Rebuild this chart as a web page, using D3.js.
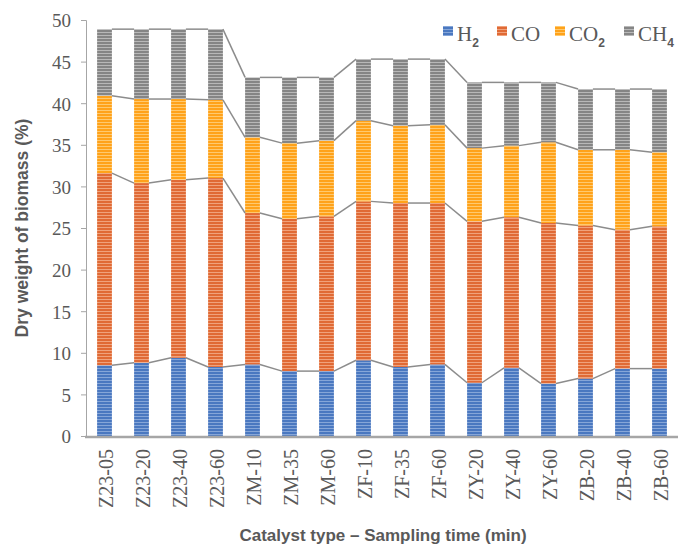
<!DOCTYPE html>
<html>
<head>
<meta charset="utf-8">
<script src="https://cdn.jsdelivr.net/npm/d3@7"></script>
<style>
  html, body { margin: 0; padding: 0; background: #fff; }
  svg { display: block; }
</style>
</head>
<body>
<svg id="chart" width="678" height="547"></svg>
<script>
// Catalyst / sampling-time categories
const categories = ["Z23-05","Z23-20","Z23-40","Z23-60","ZM-10","ZM-35","ZM-60",
                    "ZF-10","ZF-35","ZF-60","ZY-20","ZY-40","ZY-60","ZB-20","ZB-40","ZB-60"];

// Gas yields, % of dry biomass weight
const h2  = [8.5, 8.8, 9.4, 8.3, 8.6, 7.8, 7.8, 9.1, 8.3, 8.6, 6.4, 8.2, 6.3, 6.9, 8.1, 8.1];
const co  = [23.1, 21.6, 21.4, 22.7, 18.2, 18.3, 18.6, 19.1, 19.7, 19.4, 19.4, 18.1, 19.3, 18.4, 16.7, 17.1];
const co2 = [9.3, 10.1, 9.7, 9.4, 9.1, 9.1, 9.1, 9.7, 9.3, 9.4, 8.8, 8.6, 9.7, 9.1, 9.6, 8.9];
const ch4 = [8.0, 8.4, 8.4, 8.5, 7.2, 7.9, 7.6, 7.4, 8.0, 7.9, 7.9, 7.6, 7.2, 7.3, 7.3, 7.6];

const yTicks = [0, 5, 10, 15, 20, 25, 30, 35, 40, 45, 50];

const seriesKeys = ["H2", "CO", "CO2", "CH4"];
const seriesColors = { H2: "#4a78c0", CO: "#e06a35", CO2: "#ffa21a", CH4: "#858585" };
const stripeColors = { H2: "#86a6d8", CO: "#f0a27c", CO2: "#ffc96e", CH4: "#b8b8b8" };

const table = categories.map((c, i) => ({ cat: c, H2: h2[i], CO: co[i], CO2: co2[i], CH4: ch4[i] }));
const stacked = d3.stack().keys(seriesKeys)(table);

const svg = d3.select("#chart");
const plotLeft = 86, plotRight = 678, plotTop = 20, plotBottom = 436;
const serif = "'Liberation Serif', 'Times New Roman', serif";
const sans = "'Liberation Sans', Arial, sans-serif";

const x = d3.scaleBand().domain(categories).range([plotLeft, plotRight]).paddingInner(0.6).paddingOuter(0.3);
const y = d3.scaleLinear().domain([0, 50]).range([plotBottom, plotTop]);

// Narrow horizontal stripe fills
const defs = svg.append("defs");
seriesKeys.forEach(k => {
  const p = defs.append("pattern")
    .attr("id", "pat-" + k)
    .attr("patternUnits", "userSpaceOnUse")
    .attr("width", 6).attr("height", 3);
  p.append("rect").attr("width", 6).attr("height", 3).attr("fill", seriesColors[k]);
  p.append("rect").attr("y", 2).attr("width", 6).attr("height", 1).attr("fill", stripeColors[k]);
});

// Y axis
const yAxis = d3.axisLeft(y).tickValues(yTicks).tickSize(5).tickPadding(10);
const gy = svg.append("g").attr("transform", `translate(${plotLeft},0)`).call(yAxis);
gy.select(".domain").attr("stroke", "#a6a6a6").attr("stroke-width", 1);
gy.selectAll(".tick line").attr("stroke", "#a6a6a6");
gy.selectAll(".tick text")
  .attr("font-family", serif)
  .attr("font-size", 19).attr("fill", "#595959")
  .attr("dy", "0.36em");

// Bars
const groups = svg.append("g").selectAll("g").data(stacked).join("g")
  .attr("fill", d => `url(#pat-${d.key})`);
groups.selectAll("rect").data(d => d).join("rect")
  .attr("x", d => x(d.data.cat))
  .attr("width", x.bandwidth())
  .attr("y", d => y(d[1]))
  .attr("height", d => y(d[0]) - y(d[1]));

// Series lines joining segment tops of neighbouring bars
const lineG = svg.append("g").attr("fill", "none").attr("stroke", "#8c8c8c").attr("stroke-width", 1.5);
stacked.forEach(s => {
  for (let i = 0; i < s.length - 1; i++) {
    lineG.append("line")
      .attr("x1", x(categories[i]) + x.bandwidth())
      .attr("y1", y(s[i][1]))
      .attr("x2", x(categories[i + 1]))
      .attr("y2", y(s[i + 1][1]));
  }
});

// X axis
const xAxis = d3.axisBottom(x).tickSize(0).tickPadding(0);
const gx = svg.append("g").attr("transform", `translate(0,${plotBottom})`).call(xAxis);
gx.select(".domain").remove();
svg.append("line").attr("x1", plotLeft - 1).attr("x2", plotRight).attr("y1", plotBottom + 1).attr("y2", plotBottom + 1)
  .attr("stroke", "#a6a6a6").attr("stroke-width", 2.5);
gx.selectAll(".tick text")
  .attr("font-family", serif)
  .attr("font-size", 20).attr("fill", "#595959")
  .attr("text-anchor", "end")
  .attr("dy", "0.36em")
  .attr("transform", "translate(1,13) rotate(-90)");

// Axis titles
svg.append("text")
  .attr("x", 383).attr("y", 541)
  .attr("text-anchor", "middle")
  .attr("font-family", sans)
  .attr("font-weight", "bold").attr("font-size", 17).attr("fill", "#595959")
  .text("Catalyst type – Sampling time (min)");

svg.append("text")
  .attr("transform", "translate(28,228) rotate(-90)")
  .attr("text-anchor", "middle")
  .attr("font-family", sans)
  .attr("font-weight", "bold").attr("font-size", 17.5).attr("fill", "#595959")
  .text("Dry weight of biomass (%)");

// Legend
const legendItems = [
  { key: "H2", base: "H", sub: "2", x: 443 },
  { key: "CO", base: "CO", sub: "", x: 497 },
  { key: "CO2", base: "CO", sub: "2", x: 555 },
  { key: "CH4", base: "CH", sub: "4", x: 624 }
];
const lg = svg.append("g").selectAll("g").data(legendItems).join("g")
  .attr("transform", d => `translate(${d.x},0)`);
lg.append("rect").attr("x", 0).attr("y", 26).attr("width", 10).attr("height", 10)
  .attr("fill", d => `url(#pat-${d.key})`);
const lt = lg.append("text").attr("x", 14).attr("y", 41)
  .attr("font-family", serif)
  .attr("font-size", 21).attr("fill", "#595959");
lt.append("tspan").text(d => d.base);
lt.append("tspan").attr("dy", 6).attr("font-size", 12).attr("font-weight", "bold")
  .attr("font-family", sans)
  .text(d => d.sub);
</script>
</body>
</html>
